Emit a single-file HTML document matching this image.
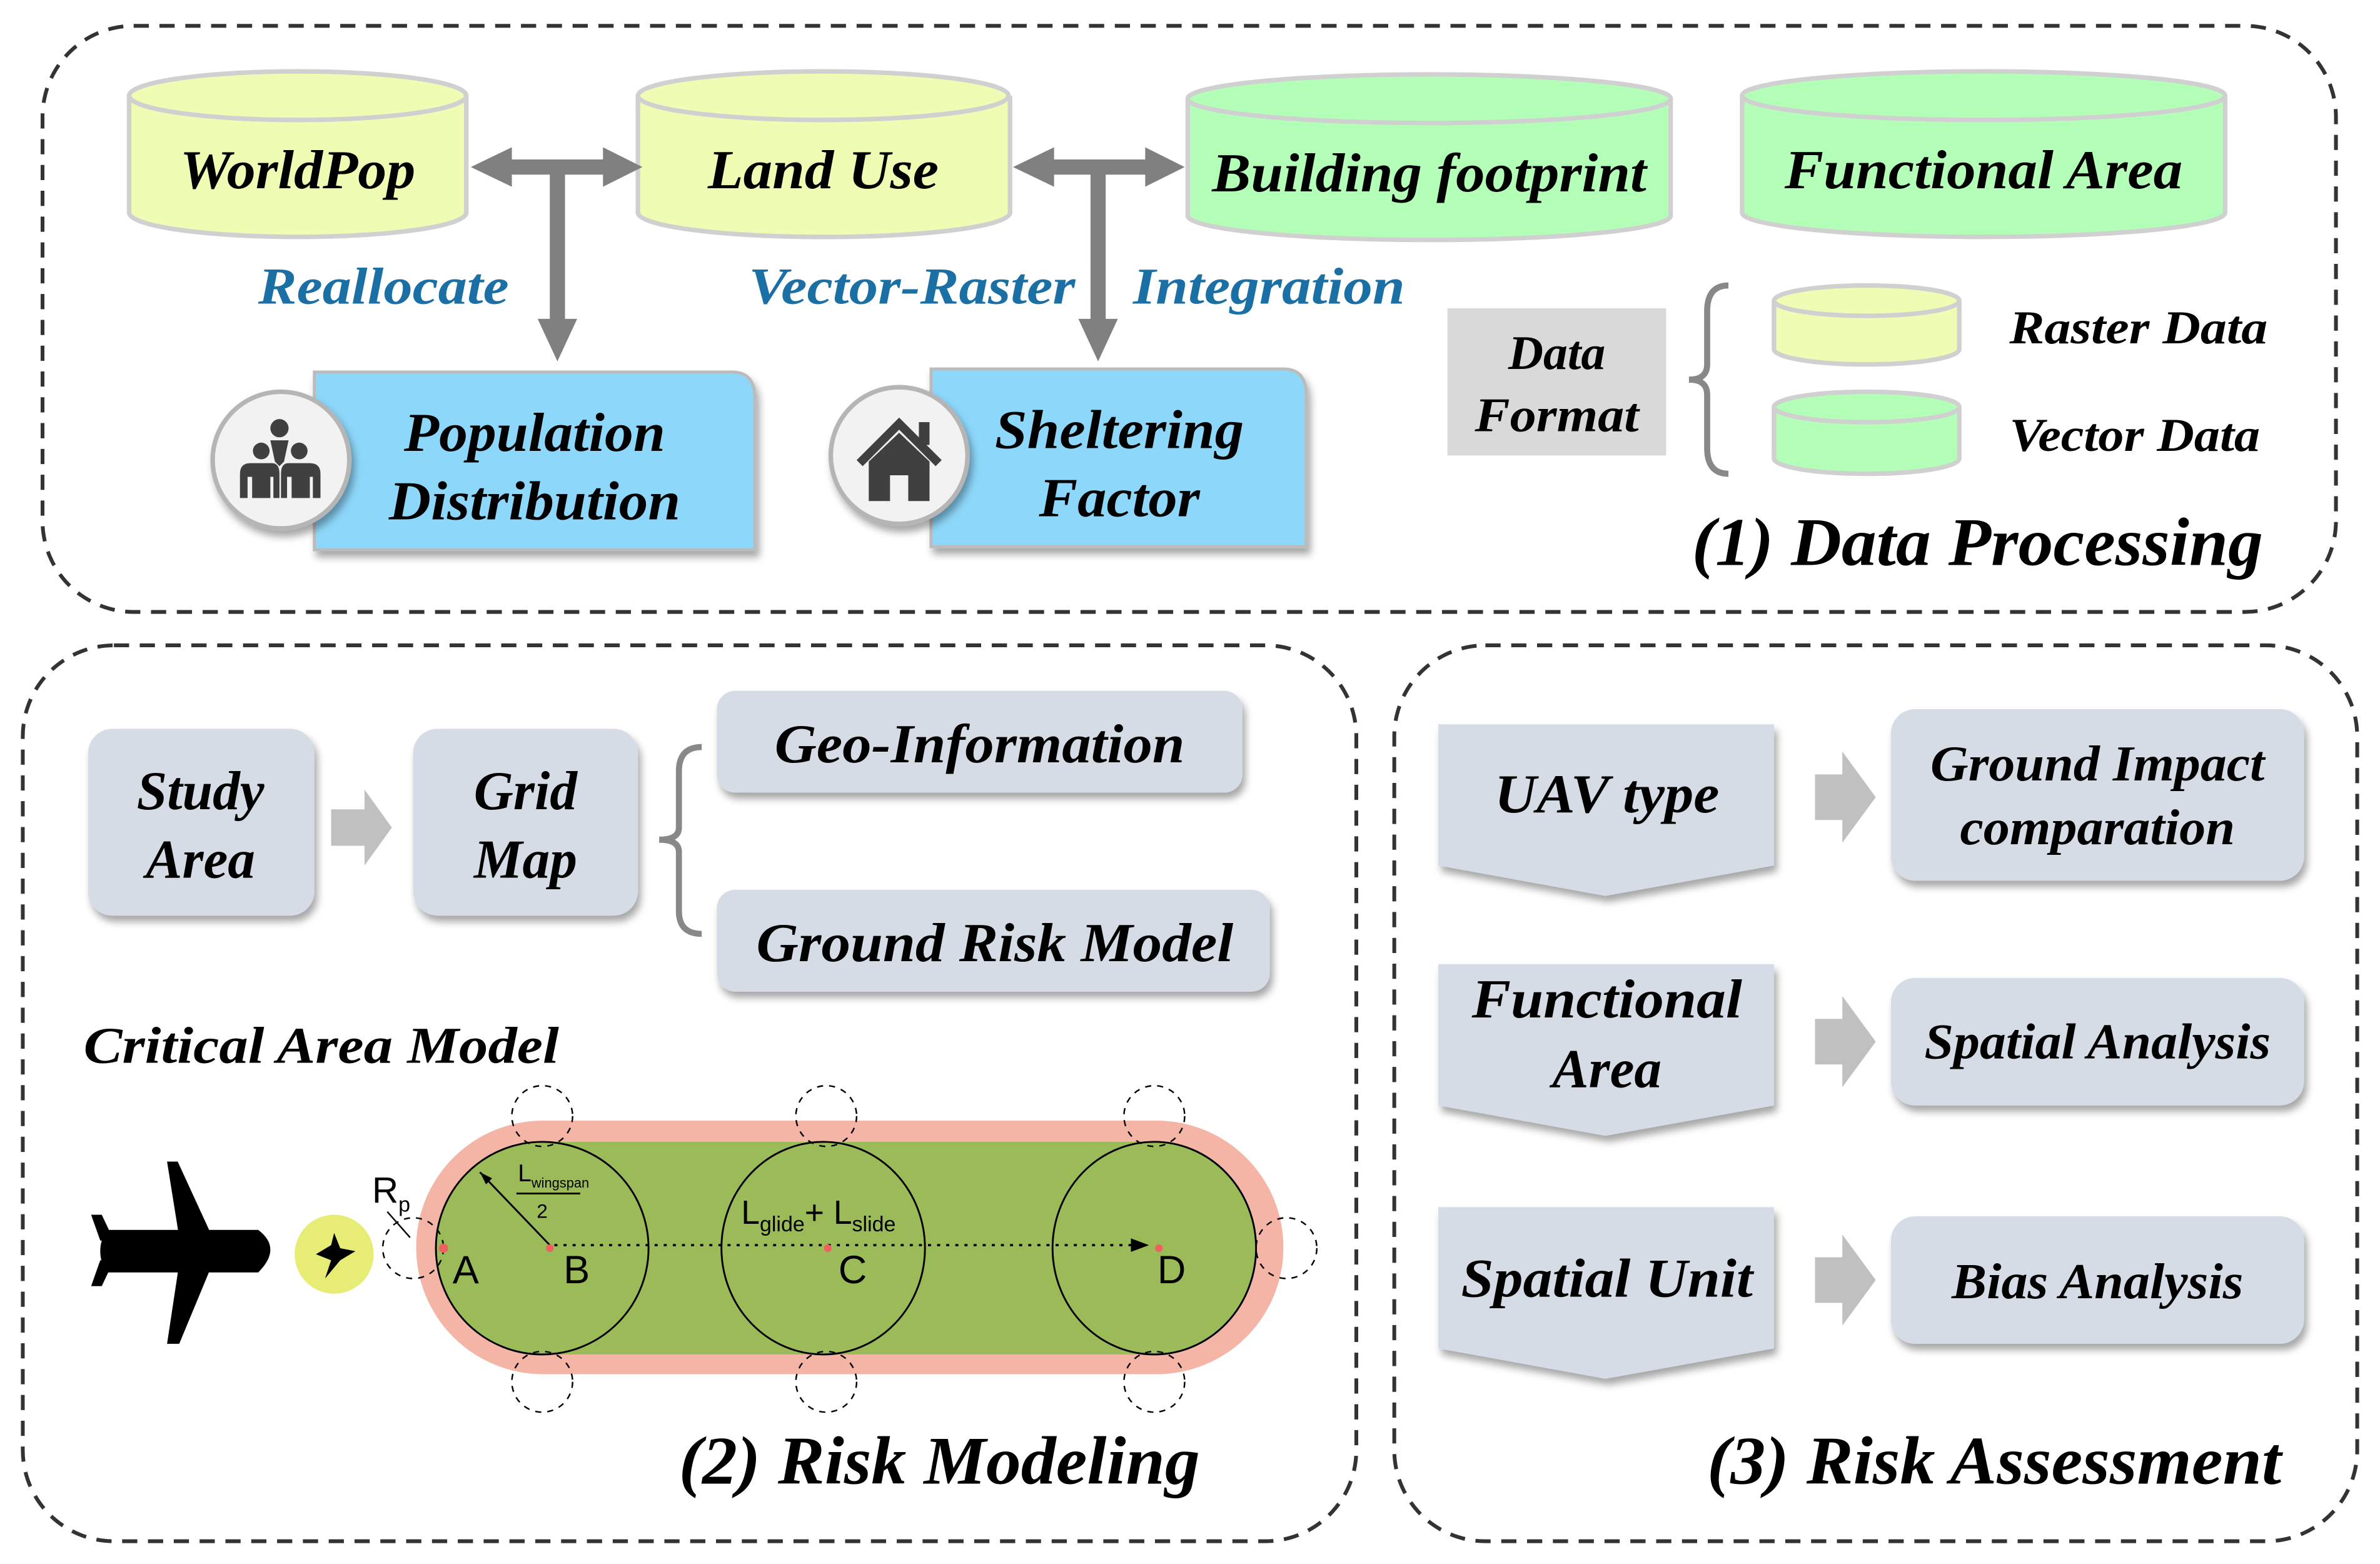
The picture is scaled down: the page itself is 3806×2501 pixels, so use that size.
<!DOCTYPE html>
<html><head><meta charset="utf-8"><style>
html,body{margin:0;padding:0;background:#fff}
svg{display:block}
.t{font-family:"Liberation Serif",serif;font-weight:bold;font-style:italic;fill:#000}
.b{fill:#1a6fa5}
.s{font-family:"Liberation Sans",sans-serif;fill:#000}
</style></head><body>
<svg width="3806" height="2501" viewBox="0 0 1567 1030" preserveAspectRatio="none" xmlns="http://www.w3.org/2000/svg">
<defs>
<filter id="sh" x="-10%" y="-10%" width="130%" height="140%"><feDropShadow dx="2" dy="4" stdDeviation="2.5" flood-color="#000" flood-opacity="0.35"/></filter>
<marker id="ah" markerWidth="8" markerHeight="8" refX="7" refY="4" orient="auto"><path d="M0,1 L8,4 L0,7 Z" fill="#000"/></marker>
</defs>
<g fill="none" stroke="#333" stroke-width="2.5" stroke-dasharray="10,7">
<rect x="28" y="17" width="1510" height="386" rx="60"/>
<rect x="15" y="425" width="878" height="590" rx="60"/>
<rect x="918" y="425" width="634" height="590" rx="60"/>
</g>
<g stroke="#d0d0d0" stroke-width="3">
<path d="M85,63 V140 A111,16 0 0 0 307,140 V63" fill="#eefcb4"/><ellipse cx="196" cy="63" rx="111" ry="16" fill="#eefcb4"/>
<path d="M420,63 V140 A122,16 0 0 0 665,140 V63" fill="#eefcb4"/><ellipse cx="542" cy="63" rx="122" ry="16" fill="#eefcb4"/>
<path d="M782,65 V142 A159,16 0 0 0 1100,142 V65" fill="#b3ffb8"/><ellipse cx="941" cy="65" rx="159" ry="16" fill="#b3ffb8"/>
<path d="M1147,63 V140 A159,16 0 0 0 1465,140 V63" fill="#b3ffb8"/><ellipse cx="1306" cy="63" rx="159" ry="16" fill="#b3ffb8"/>
<path d="M1168,198 V230 A61,10 0 0 0 1290,230 V198" fill="#eefcb4"/><ellipse cx="1229" cy="198" rx="61" ry="10" fill="#eefcb4"/>
<path d="M1168,268 V302 A61,10 0 0 0 1290,302 V268" fill="#b3ffb8"/><ellipse cx="1229" cy="268" rx="61" ry="10" fill="#b3ffb8"/>
</g>
<text class="t" x="196" y="124" font-size="36" text-anchor="middle" textLength="155" lengthAdjust="spacingAndGlyphs">WorldPop</text>
<text class="t" x="542" y="124" font-size="36" text-anchor="middle" textLength="152" lengthAdjust="spacingAndGlyphs">Land Use</text>
<text class="t" x="941" y="126" font-size="36" text-anchor="middle" textLength="286" lengthAdjust="spacingAndGlyphs">Building footprint</text>
<text class="t" x="1306" y="124" font-size="36" text-anchor="middle" textLength="262" lengthAdjust="spacingAndGlyphs">Functional Area</text>
<g fill="#808080">
<path d="M310,110 L337,97 V105 H397 V97 L423,110 L397,123 V115 H372 V210 H380 L367,238 L354,210 H362 V115 H337 V123 Z"/>
<path d="M667,110 L694,97 V105 H754 V97 L780,110 L754,123 V115 H728 V210 H736 L723,238 L710,210 H718 V115 H694 V123 Z"/>
</g>
<text class="t b" x="170" y="200" font-size="34" textLength="165" lengthAdjust="spacingAndGlyphs">Reallocate</text>
<text class="t b" x="493" y="200" font-size="34" textLength="215" lengthAdjust="spacingAndGlyphs">Vector-Raster</text>
<text class="t b" x="746" y="200" font-size="34" textLength="179" lengthAdjust="spacingAndGlyphs">Integration</text>
<path d="M207,245 H482 Q497,245 497,262 V362 H207 Z" fill="#8dd7fb" stroke="#bbb" stroke-width="2" filter="url(#sh)"/>
<path d="M613,243 H845 Q860,243 860,260 V360 H613 Z" fill="#8dd7fb" stroke="#bbb" stroke-width="2" filter="url(#sh)"/>
<ellipse cx="185" cy="303" rx="45" ry="45" fill="#f2f2f2" stroke="#b5b5b5" stroke-width="3" filter="url(#sh)"/>
<ellipse cx="592" cy="300" rx="45" ry="45" fill="#f2f2f2" stroke="#b5b5b5" stroke-width="3" filter="url(#sh)"/>
<g fill="#404040">
<circle cx="184" cy="282" r="6"/><path d="M178,290 H190 L187,304 L184,307 L181,304 Z"/>
<circle cx="172" cy="297" r="5.5"/><circle cx="197" cy="297" r="5.5"/>
<path d="M158,328 V312 Q158,305 165,305 H179 Q184,305 184,312 V328 H180 V314 H178 V328 H166 V314 H163 V328 Z"/>
<path d="M185,328 V312 Q185,305 190,305 H204 Q211,305 211,312 V328 H206 V314 H204 V328 H192 V314 H189 V328 Z"/>
<path d="M564,303 L592,275 L620,303 L616,307 L592,283 L568,307 Z"/>
<rect x="605" y="278" width="7" height="15"/>
<path d="M572,304 L592,285 L612,304 V330 H598 V313 H586 V330 H572 Z"/>
</g>
<text class="t" x="352" y="297" font-size="36" text-anchor="middle" textLength="172" lengthAdjust="spacingAndGlyphs">Population</text>
<text class="t" x="352" y="342" font-size="36" text-anchor="middle" textLength="192" lengthAdjust="spacingAndGlyphs">Distribution</text>
<text class="t" x="737" y="295" font-size="36" text-anchor="middle" textLength="164" lengthAdjust="spacingAndGlyphs">Sheltering</text>
<text class="t" x="737" y="340" font-size="36" text-anchor="middle" textLength="106" lengthAdjust="spacingAndGlyphs">Factor</text>
<rect x="953" y="203" width="144" height="97" fill="#d9d9d9"/>
<text class="t" x="1025" y="243" font-size="32" text-anchor="middle">Data</text>
<text class="t" x="1025" y="284" font-size="32" text-anchor="middle" textLength="108" lengthAdjust="spacingAndGlyphs">Format</text>
<path d="M1138,188 Q1124,188 1124,205 V240 Q1124,250 1112,250 Q1124,250 1124,260 V295 Q1124,312 1138,312" fill="none" stroke="#888" stroke-width="4"/>
<text class="t" x="1323" y="226" font-size="31" textLength="170" lengthAdjust="spacingAndGlyphs">Raster Data</text>
<text class="t" x="1323" y="297" font-size="31" textLength="165" lengthAdjust="spacingAndGlyphs">Vector Data</text>
<text class="t" x="1490" y="372" font-size="45" text-anchor="end" textLength="376" lengthAdjust="spacingAndGlyphs">(1) Data Processing</text>
<g fill="#d6dce5" filter="url(#sh)">
<rect x="58" y="480" width="149" height="123" rx="16"/>
<rect x="272" y="480" width="148" height="123" rx="16"/>
<rect x="472" y="455" width="346" height="67" rx="12"/>
<rect x="472" y="586" width="364" height="67" rx="12"/>
</g>
<path d="M218,533 H240 V520 L258,545 L240,570 V557 H218 Z" fill="#c0c0c0"/>
<text class="t" x="132" y="533" font-size="36" text-anchor="middle">Study</text>
<text class="t" x="132" y="578" font-size="36" text-anchor="middle">Area</text>
<text class="t" x="346" y="533" font-size="36" text-anchor="middle">Grid</text>
<text class="t" x="346" y="578" font-size="36" text-anchor="middle">Map</text>
<path d="M462,492 Q447,492 447,508 V545 Q447,553 434,553 Q447,553 447,561 V600 Q447,615 462,615" fill="none" stroke="#888" stroke-width="4"/>
<text class="t" x="645" y="502" font-size="36" text-anchor="middle" textLength="270" lengthAdjust="spacingAndGlyphs">Geo-Information</text>
<text class="t" x="655" y="633" font-size="36" text-anchor="middle" textLength="314" lengthAdjust="spacingAndGlyphs">Ground Risk Model</text>
<text class="t" x="55" y="700" font-size="34" textLength="313" lengthAdjust="spacingAndGlyphs">Critical Area Model</text>
<rect x="274" y="738" width="571" height="167" rx="83.5" fill="#f4b4a6"/>
<rect x="357" y="752" width="403" height="140" fill="#9bbb59"/>
<g fill="#9bbb59" stroke="#000" stroke-width="1.2">
<ellipse cx="357" cy="822" rx="70" ry="70"/>
<ellipse cx="542" cy="822" rx="67" ry="70"/>
<ellipse cx="760" cy="822" rx="67" ry="70"/>
</g>
<g fill="none" stroke="#000" stroke-width="1" stroke-dasharray="4,4">
<circle cx="357" cy="735" r="20"/><circle cx="544" cy="735" r="20"/><circle cx="760" cy="735" r="20"/>
<circle cx="357" cy="910" r="20"/><circle cx="544" cy="910" r="20"/><circle cx="760" cy="910" r="20"/>
<circle cx="272" cy="822" r="20"/><circle cx="847" cy="822" r="20"/>
<line x1="365" y1="820" x2="755" y2="820" stroke-dasharray="2,4" stroke-width="1.5" marker-end="url(#ah)"/>
</g>
<line x1="362" y1="820" x2="316" y2="772" stroke="#000" stroke-width="1.2"/>
<path d="M316,772 L324,776 L320,780 Z" fill="#000"/>
<line x1="255" y1="798" x2="270" y2="815" stroke="#000" stroke-width="1"/>
<g fill="#f06060"><circle cx="292" cy="822" r="3"/><circle cx="362" cy="822" r="2.5"/><circle cx="545" cy="822" r="2.5"/><circle cx="763" cy="822" r="2.5"/></g>
<text class="s" x="298" y="845" font-size="26">A</text>
<text class="s" x="371" y="845" font-size="26">B</text>
<text class="s" x="552" y="845" font-size="26">C</text>
<text class="s" x="762" y="845" font-size="26">D</text>
<text class="s" x="245" y="792" font-size="24">R<tspan font-size="14" dy="6">p</tspan></text>
<text class="s" x="341" y="778" font-size="16">L<tspan font-size="9" dy="4">wingspan</tspan></text>
<line x1="340" y1="786" x2="382" y2="786" stroke="#000" stroke-width="1.2"/>
<text class="s" x="357" y="802" font-size="13" text-anchor="middle">2</text>
<text class="s" x="488" y="806" font-size="22">L<tspan font-size="14" dy="5">glide</tspan><tspan dy="-5">+ L</tspan><tspan font-size="14" dy="5">slide</tspan></text>
<g fill="#000">
<path d="M70,810 H170 Q186,822 170,838 H70 Q62,824 70,810 Z"/>
<path d="M110,765 L117,765 L140,815 L118,815 Z"/>
<path d="M118,832 L140,832 L118,885 L110,885 Z"/>
<path d="M60,800 L67,800 L75,817 L66,817 Z"/>
<path d="M66,830 L75,830 L67,847 L60,847 Z"/>
</g>
<circle cx="220" cy="826" r="26" fill="#e6ec74"/>
<path d="M220,812 L224,822 L234,824 L224,830 L214,842 L218,830 L208,826 L218,820 Z" fill="#000"/>
<text class="t" x="790" y="977" font-size="45" text-anchor="end" textLength="343" lengthAdjust="spacingAndGlyphs">(2) Risk Modeling</text>
<g fill="#d6dce5" filter="url(#sh)">
<path d="M947,477 H1168 V570 L1057,590 L947,570 Z"/>
<path d="M947,635 H1168 V728 L1057,748 L947,728 Z"/>
<path d="M947,795 H1168 V888 L1057,908 L947,888 Z"/>
<rect x="1245" y="467" width="272" height="113" rx="16"/>
<rect x="1245" y="644" width="272" height="84" rx="16"/>
<rect x="1245" y="801" width="272" height="84" rx="16"/>
</g>
<g fill="#c0c0c0">
<path d="M1195,510 H1213 V495 L1235,525 L1213,555 V540 H1195 Z"/>
<path d="M1195,671 H1213 V656 L1235,686 L1213,716 V701 H1195 Z"/>
<path d="M1195,828 H1213 V813 L1235,843 L1213,873 V858 H1195 Z"/>
</g>
<text class="t" x="1058" y="535" font-size="36" text-anchor="middle" textLength="148" lengthAdjust="spacingAndGlyphs">UAV type</text>
<text class="t" x="1058" y="670" font-size="36" text-anchor="middle" textLength="178" lengthAdjust="spacingAndGlyphs">Functional</text>
<text class="t" x="1058" y="716" font-size="36" text-anchor="middle">Area</text>
<text class="t" x="1058" y="854" font-size="36" text-anchor="middle" textLength="192" lengthAdjust="spacingAndGlyphs">Spatial Unit</text>
<text class="t" x="1381" y="514" font-size="33" text-anchor="middle" textLength="220" lengthAdjust="spacingAndGlyphs">Ground Impact</text>
<text class="t" x="1381" y="556" font-size="33" text-anchor="middle" textLength="181" lengthAdjust="spacingAndGlyphs">comparation</text>
<text class="t" x="1381" y="697" font-size="33" text-anchor="middle" textLength="228" lengthAdjust="spacingAndGlyphs">Spatial Analysis</text>
<text class="t" x="1381" y="855" font-size="33" text-anchor="middle" textLength="192" lengthAdjust="spacingAndGlyphs">Bias Analysis</text>
<text class="t" x="1502" y="977" font-size="45" text-anchor="end" textLength="378" lengthAdjust="spacingAndGlyphs">(3) Risk Assessment</text>
</svg>
</body></html>
